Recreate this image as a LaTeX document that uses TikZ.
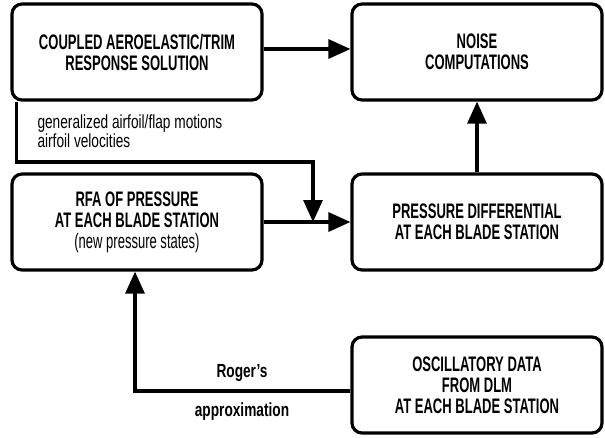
\documentclass[tikz,border=0pt]{standalone}
\usepackage{fontspec}
\setmainfont{Liberation Sans}[FakeStretch=0.72]
\newfontfamily\boxfont{Liberation Sans}[FakeStretch=0.62]
\usetikzlibrary{positioning,arrows.meta}

\begin{document}
\begin{tikzpicture}[
            x = 1pt, y = -1pt,
            blockbox/.style = {draw, line width = 3.2pt, rounded corners = 10pt,
                minimum width = 250pt, minimum height = 96pt, align = center,
                font = \boxfont\bfseries\fontsize{21}{21}\selectfont},
            flow/.style = {line width = 3.2pt, -{Triangle[length = 22pt, width = 19pt]}},
            note/.style = {font = \fontsize{19}{19}\selectfont}]
            \useasboundingbox (0,0) rectangle (605,437);
            % boxes
            \node[blockbox] (coupled) at (137,52) {COUPLED AEROELASTIC/TRIM\\RESPONSE SOLUTION};
            \node[blockbox] (noise) at (477,52) {NOISE\\COMPUTATIONS};
            \node[blockbox] (rfa) at (137,222) {RFA OF PRESSURE\\AT EACH BLADE STATION\\{\mdseries (new pressure states)}};
            \node[blockbox] (pdiff) at (477,222) {PRESSURE DIFFERENTIAL\\AT EACH BLADE STATION};
            \node[blockbox] (dlm) at (477,385) {OSCILLATORY DATA\\FROM DLM\\AT EACH BLADE STATION};
            % connectors
            \coordinate (merge) at (313,222);
            \draw[flow] ([yshift=3pt]coupled.east) -- ([yshift=3pt]noise.west);
            \draw[flow] (rfa.east) -- (pdiff.west);
            \draw[flow] (pdiff.north) -- (noise.south);
            \draw[flow] ([xshift=6pt]coupled.south west) |- (313,162) -- (merge);
            \draw[flow] ([yshift=-6pt]dlm.west) -| ([xshift=-2pt]rfa.south);
            % labels
            \node[note, anchor = west, align = left] (motions) at (34,131) {generalized airfoil/flap motions\\airfoil velocities};
            \node[note, font = \bfseries\fontsize{19}{19}\selectfont] (roger) at (242,373) {Roger's};
            \node[note, font = \bfseries\fontsize{19}{19}\selectfont] (approx) at (242,412) {approximation};
        \end{tikzpicture}
\end{document}
